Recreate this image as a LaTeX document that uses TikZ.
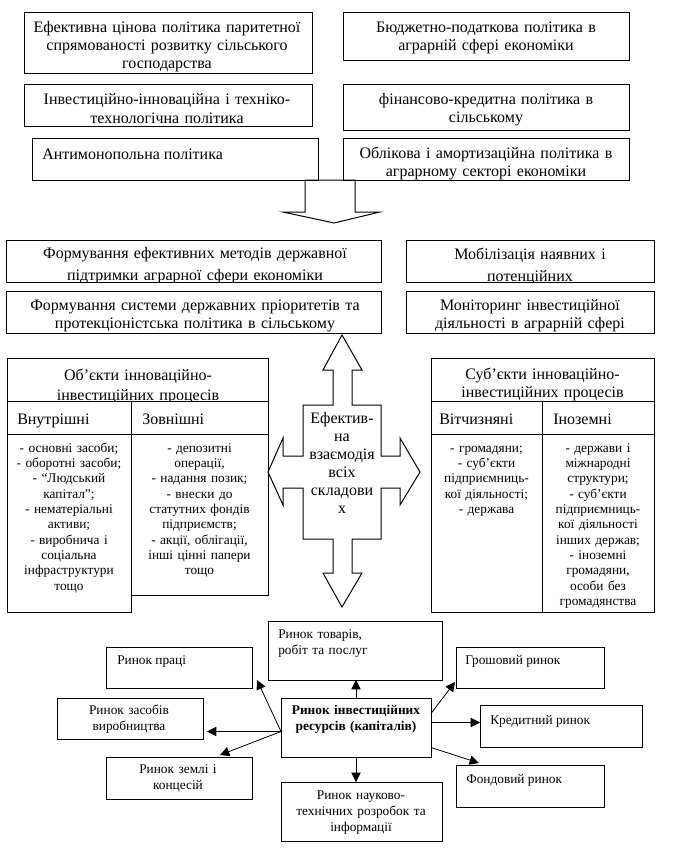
\documentclass[tikz,border=0pt]{standalone}
\usepackage{fontspec}
\setmainfont{Liberation Serif}
\usetikzlibrary{arrows.meta,calc}
\tikzset{
  bx/.style={draw, line width=0.75pt, inner sep=0pt, outer sep=0pt, anchor=north west},
  big/.style={font=\fontsize{12}{13.8}\selectfont},
  mid/.style={font=\fontsize{12}{13.5}\selectfont},
  lst/.style={font=\fontsize{10}{11.5}\selectfont},
  sml/.style={font=\fontsize{10}{12}\selectfont},
  smlb/.style={font=\fontsize{10}{12}\selectfont\bfseries},
  ctext/.style={inner sep=0pt, anchor=base, align=center, text width=300pt},
  ltext/.style={inner sep=0pt, anchor=base west, align=left, text width=150pt},
  arr/.style={-{Triangle[length=7pt,width=7pt]}, line width=0.6pt},
  blockshape/.style={draw, line width=0.75pt, line join=miter},
}
\newcommand\mkbox[5]{\node[bx, minimum width={(#4-#2)*0.75pt}, minimum height={(#5-#3)*0.75pt}] (#1) at (#2,#3) {};}
\newcommand\cliptext[2]{\begin{scope}\clip (#1.north west) rectangle (#1.south east); #2 \end{scope}}
\begin{document}
\begin{tikzpicture}[x=0.75pt,y=-0.75pt]
\fill[white] (0,0) rectangle (679,864);
\useasboundingbox (0,0) rectangle (679,864);

% ---------- top policy boxes
\mkbox{a1}{24}{12}{312}{73}
\mkbox{a2}{24}{84}{312}{126}
\mkbox{a3}{32}{138}{318}{180}
\mkbox{b1}{343}{12}{629}{60}
\mkbox{b2}{343}{84}{629}{130}
\mkbox{b3}{343}{138}{629}{180}
\cliptext{a1}{\node[big,ctext] (ta1) at (167,32) {Ефективна цінова політика паритетної\\спрямованості розвитку сільського\\господарства};}
\cliptext{a2}{\node[big,ctext] (ta2) at (167,104) {Інвестиційно-інноваційна і техніко-\\[1pt]технологічна політика};}
\cliptext{a3}{\node[big,inner sep=0pt,anchor=base west] (ta3) at (42,159) {Антимонопольна політика};}
\cliptext{b1}{\node[big,ctext] (tb1) at (486,32) {Бюджетно-податкова політика в\\аграрній сфері економіки};}
\cliptext{b2}{\node[big,ctext] (tb2) at (486,104) {фінансово-кредитна політика в\\сільському};}
\cliptext{b3}{\node[big,ctext] (tb3) at (486,158) {Облікова і амортизаційна політика в\\аграрному секторі економіки};}

% down block arrow
\draw[blockshape] (305,180) -- (305,212) -- (283,212) -- (334,223) -- (380,212) -- (355,212) -- (355,180) -- cycle;

% ---------- second row boxes
\mkbox{c1}{6}{240}{381}{282}
\mkbox{c2}{6}{291}{381}{333}
\mkbox{d1}{406}{240}{654}{282}
\mkbox{d2}{406}{291}{654}{333}
\cliptext{c1}{\node[big,ctext] (tc1) at (195,258) {Формування ефективних методів державної\\[3.4pt]підтримки аграрної сфери економіки};}
\cliptext{c2}{\node[big,ctext] (tc2) at (195,310) {Формування системи державних пріоритетів та\\протекціоністська політика в сільському};}
\cliptext{d1}{\node[big,ctext] (td1) at (530,259) {Мобілізація наявних і\\[3.4pt]потенційних};}
\cliptext{d2}{\node[big,ctext] (td2) at (530,310) {Моніторинг інвестиційної\\діяльності в аграрній сфері};}

% ---------- objects table
\mkbox{ot}{7}{358}{268}{401}
\mkbox{oi}{7}{401}{131}{434}
\mkbox{oe}{131}{401}{268}{434}
\mkbox{ol}{7}{434}{131}{612}
\mkbox{orr}{131}{434}{268}{595}
\cliptext{ot}{\node[big,ctext] (tot) at (138,380) {Об’єкти інноваційно-\\[1.4pt]інвестиційних процесів};}
\node[big,inner sep=0pt,anchor=base west] (toi) at (17,424) {Внутрішні};
\node[big,inner sep=0pt,anchor=base west] (toe) at (142,424) {Зовнішні};
\node[lst,ctext] (tol) at (69,452) {- основні засоби;\\- оборотні засоби;\\- “Людський\\капітал”;\\- нематеріальні\\активи;\\- виробнича і\\соціальна\\інфраструктури\\тощо};
\node[lst,ctext] (tor) at (199.5,452) {- депозитні\\операції,\\- надання позик;\\- внески до\\статутних фондів\\підприємств;\\- акції, облігації,\\інші цінні папери\\тощо};

% ---------- subjects table
\mkbox{st}{431}{358}{654}{401}
\mkbox{sv}{431}{401}{542}{434}
\mkbox{si}{542}{401}{654}{434}
\mkbox{sl}{431}{434}{542}{612}
\mkbox{sr}{542}{434}{654}{612}
\cliptext{st}{\node[big,ctext] (tst) at (542.5,379) {Суб’єкти інноваційно-\\інвестиційних процесів};}
\node[big,inner sep=0pt,anchor=base west] (tsv) at (439,424) {Вітчизняні};
\node[big,inner sep=0pt,anchor=base west] (tsi) at (553,424) {Іноземні};
\node[lst,ctext] (tsl) at (486.5,452) {- громадяни;\\- суб’єкти\\підприємниць-\\кої діяльності;\\- держава};
\node[lst,ctext] (tsr) at (598,452) {- держави і\\міжнародні\\структури;\\- суб’єкти\\підприємниць-\\кої діяльності\\інших держав;\\- іноземні\\громадяни,\\особи без\\громадянства};

% ---------- central four-way block arrow
\draw[blockshape] (342,335) -- (362,370) -- (352,370) -- (352,405) -- (381,405) -- (381,456) -- (400,456) -- (400,438) -- (420,472) -- (400,505) -- (400,488) -- (381,488) -- (381,539) -- (352,539) -- (352,573) -- (362,573) -- (342,607) -- (323,573) -- (333,573) -- (333,539) -- (303,539) -- (303,488) -- (283,488) -- (283,505) -- (268,472) -- (283,438) -- (283,456) -- (303,456) -- (303,405) -- (333,405) -- (333,370) -- (323,370) -- cycle;
\node[mid,ctext] (eff) at (342,423) {Ефектив-\\на\\взаємодія\\всіх\\складови\\х};

% ---------- markets
\mkbox{t}{268}{621}{442}{680}
\mkbox{p}{106}{647}{252}{688}
\mkbox{z}{57}{698}{203}{739}
\mkbox{zm}{106}{757}{252}{799}
\mkbox{c}{281}{698}{431}{757}
\mkbox{n}{281}{782}{442}{841}
\mkbox{g}{456}{647}{604}{688}
\mkbox{k}{480}{705}{642}{747}
\mkbox{f}{456}{765}{604}{807}
\node[sml,ltext] (tt) at (278,638) {Ринок товарів,\\робіт та послуг};
\node[sml,inner sep=0pt,anchor=base west] (tp) at (117,664) {Ринок праці};
\node[sml,ctext] (tz) at (129,714) {Ринок засобів\\виробництва};
\node[sml,ctext] (tzm) at (178,773) {Ринок землі і\\концесій};
\node[smlb,ctext] (tc) at (356,714) {Ринок інвестиційних\\ресурсів (капіталів)};
\node[sml,ctext] (tn) at (361,799) {Ринок науково-\\технічних розробок та\\інформації};
\node[sml,inner sep=0pt,anchor=base west] (tg) at (465,664) {Грошовий ринок};
\node[sml,inner sep=0pt,anchor=base west] (tk) at (490,724) {Кредитний ринок};
\node[sml,inner sep=0pt,anchor=base west] (tf) at (466,783) {Фондовий ринок};

% arrows
\coordinate (cl) at ($(c.west)+(0,4)$);
\coordinate (cr) at ($(c.east)+(0,-5)$);
\draw[arr] (c.north) -- (c.north |- t.south);
\draw[arr] (c.south) -- (c.south |- n.north);
\draw[arr] (cl) -- ($(p.south east)+(5,-8)$);
\draw[arr, shorten >=3pt] (cl) -- (cl -| z.east);
\draw[arr] (cl) -- ($(zm.north east)+(-32,-2)$);
\draw[arr] ($(c.east)+(0,-14)$) -- ($(g.south west)+(-1,-6)$);
\draw[arr] (cr) -- (cr -| k.west);
\draw[arr] ($(c.east)+(0,20)$) -- ($(f.north west)+(23,-2)$);
\end{tikzpicture}
\end{document}
